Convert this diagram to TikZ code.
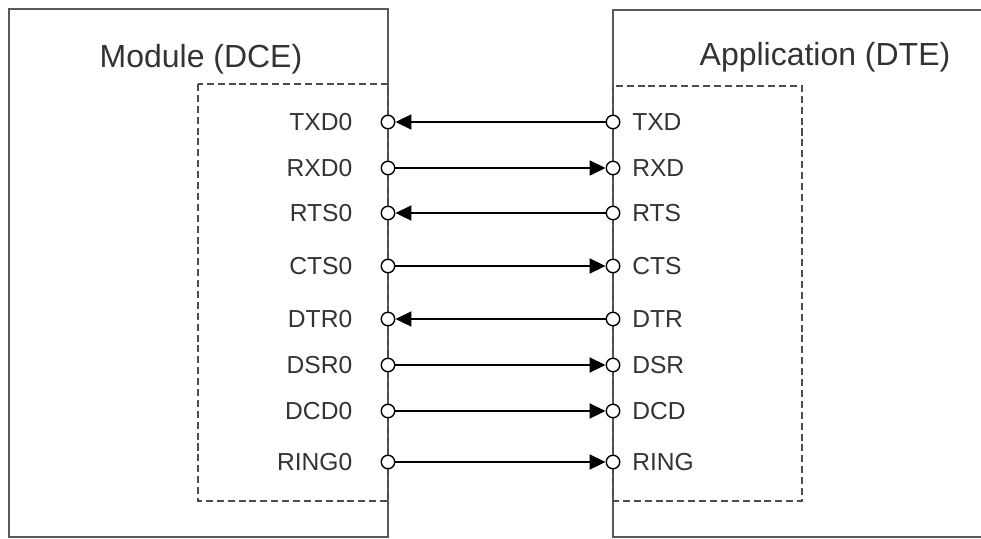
\documentclass[tikz,border=0pt]{standalone}
\usepackage{fontspec}
\setmainfont{Liberation Sans}
\usepackage{tikz}
\usetikzlibrary{positioning, arrows.meta}

\begin{document}
\begin{tikzpicture}[
  x=0.02cm, y=-0.02cm,
  font=\fontsize{14}{16}\selectfont,
  frame/.style={draw=black!65, line width=1.1pt},
  part/.style={draw=black!70, line width=1pt, dash pattern=on 4pt off 2.2pt},
  pin/.style={circle, draw, fill=white, line width=0.8pt, inner sep=0pt, minimum size=0.27cm},
  sig/.style={inner sep=0pt, text=black!80},
  title/.style={font=\fontsize{18.2}{21}\selectfont, text=black!80},
  >={Triangle[length=0.32cm, width=0.3cm]},
]
\useasboundingbox (0,0) rectangle (981,538);

\draw[frame] (9,9) rectangle (388,537);
\draw[frame] (981,10) -- (613,10) -- (613,537) -- (981,537);
\draw[part] (198,84) rectangle (388,501);
\draw[part] (613,86) rectangle (802,501);

\node[title] (dce) at (201,59) {Module (DCE)};
\node[title] (dte) at (825,57) {Application (DTE)};

\node[pin] (txd0) at (388,122) {};
\node[pin] (rxd0) at (388,168) {};
\node[pin] (rts0) at (388,213) {};
\node[pin] (cts0) at (388,266) {};
\node[pin] (dtr0) at (388,319) {};
\node[pin] (dsr0) at (388,365) {};
\node[pin] (dcd0) at (388,411) {};
\node[pin] (ring0) at (388,462) {};

\node[pin] (txd) at (613,122) {};
\node[pin] (rxd) at (613,168) {};
\node[pin] (rts) at (613,213) {};
\node[pin] (cts) at (613,266) {};
\node[pin] (dtr) at (613,319) {};
\node[pin] (dsr) at (613,365) {};
\node[pin] (dcd) at (613,411) {};
\node[pin] (ring) at (613,462) {};

\node[sig, left=0.56cm of txd0] (ltxd0) {TXD0};
\node[sig, left=0.56cm of rxd0] (lrxd0) {RXD0};
\node[sig, left=0.56cm of rts0] (lrts0) {RTS0};
\node[sig, left=0.56cm of cts0] (lcts0) {CTS0};
\node[sig, left=0.56cm of dtr0] (ldtr0) {DTR0};
\node[sig, left=0.56cm of dsr0] (ldsr0) {DSR0};
\node[sig, left=0.56cm of dcd0] (ldcd0) {DCD0};
\node[sig, left=0.56cm of ring0] (lring0) {RING0};

\node[sig, right=0.23cm of txd] (ltxd) {TXD};
\node[sig, right=0.23cm of rxd] (lrxd) {RXD};
\node[sig, right=0.23cm of rts] (lrts) {RTS};
\node[sig, right=0.23cm of cts] (lcts) {CTS};
\node[sig, right=0.23cm of dtr] (ldtr) {DTR};
\node[sig, right=0.23cm of dsr] (ldsr) {DSR};
\node[sig, right=0.23cm of dcd] (ldcd) {DCD};
\node[sig, right=0.23cm of ring] (lring) {RING};

\draw[->, line width=1.1pt] (txd) -- (txd0);
\draw[->, line width=1.1pt] (rxd0) -- (rxd);
\draw[->, line width=1.1pt] (rts) -- (rts0);
\draw[->, line width=1.1pt] (cts0) -- (cts);
\draw[->, line width=1.1pt] (dtr) -- (dtr0);
\draw[->, line width=1.1pt] (dsr0) -- (dsr);
\draw[->, line width=1.1pt] (dcd0) -- (dcd);
\draw[->, line width=1.1pt] (ring0) -- (ring);
\end{tikzpicture}
\end{document}
